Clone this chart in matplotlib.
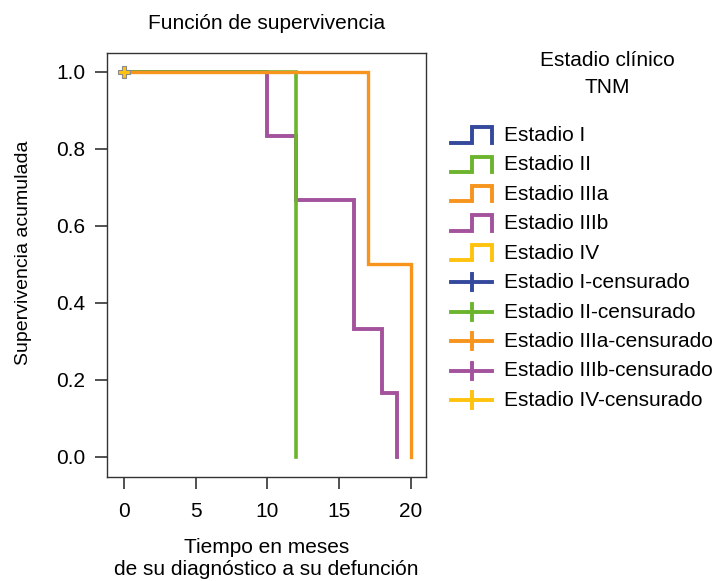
import matplotlib
matplotlib.use("Agg")
import matplotlib.pyplot as plt
from matplotlib.legend_handler import HandlerBase
from matplotlib.lines import Line2D

plt.rcParams["font.family"] = ["Liberation Sans", "DejaVu Sans"]

# Kaplan-Meier step data per clinical stage (time in months, cumulative survival)
stages = ["Estadio I", "Estadio II", "Estadio IIIa", "Estadio IIIb", "Estadio IV"]
colors = ["#34489c", "#6cb42e", "#f7941d", "#a3529c", "#ffc20e"]

time_I = [0, 10]
surv_I = [1.0, 1.0]
time_II = [0, 12, 12]
surv_II = [1.0, 1.0, 0.0]
time_IIIa = [0, 17, 17, 20, 20]
surv_IIIa = [1.0, 1.0, 0.5, 0.5, 0.0]
time_IIIb = [0, 10, 10, 12, 12, 16, 16, 18, 18, 19, 19]
surv_IIIb = [1.0, 1.0, 0.833, 0.833, 0.667, 0.667, 0.333, 0.333, 0.167, 0.167, 0.0]
time_IV = [0, 0]
surv_IV = [1.0, 1.0]

censor_time_IV = [0]
censor_surv_IV = [1.0]

curves = {
    "Estadio I": (time_I, surv_I),
    "Estadio II": (time_II, surv_II),
    "Estadio IIIa": (time_IIIa, surv_IIIa),
    "Estadio IIIb": (time_IIIb, surv_IIIb),
    "Estadio IV": (time_IV, surv_IV),
}

x_ticks = [0, 5, 10, 15, 20]
y_ticks = [0.0, 0.2, 0.4, 0.6, 0.8, 1.0]

FS = 15


class StepHandler(HandlerBase):
    def create_artists(self, legend, orig_handle, xdescent, ydescent,
                       width, height, fontsize, trans):
        x0, x1 = -xdescent, -xdescent + width
        xm = x0 + width * 0.5
        y0, y1 = -ydescent - height * 0.1, -ydescent + height * 0.95
        line = Line2D([x0, xm, xm, x1, x1], [y0, y0, y1, y1, y0],
                      color=orig_handle.get_color(), lw=2.8,
                      solid_joinstyle="miter", transform=trans)
        return [line]


class CensorHandler(HandlerBase):
    def create_artists(self, legend, orig_handle, xdescent, ydescent,
                       width, height, fontsize, trans):
        x0, x1 = -xdescent, -xdescent + width
        ym = -ydescent + height * 0.4
        h = Line2D([x0, x1], [ym, ym], color=orig_handle.get_color(), lw=2.8,
                   transform=trans)
        xm = (x0 + x1) / 2
        v = Line2D([xm, xm], [ym - height * 0.55, ym + height * 0.55],
                   color=orig_handle.get_color(), lw=2.8, transform=trans)
        return [h, v]


fig = plt.figure(figsize=(7.2, 5.81), dpi=100)
ax = fig.add_axes([0.1486, 0.179, 0.443, 0.730])

order = ["Estadio I", "Estadio IV", "Estadio IIIb", "Estadio II", "Estadio IIIa"]
widths = {"Estadio I": 2.6, "Estadio IV": 2.4, "Estadio IIIb": 2.8,
          "Estadio II": 2.6, "Estadio IIIa": 2.4}
for name in order:
    t, s = curves[name]
    c = colors[stages.index(name)]
    ax.plot(t, s, color=c, lw=widths[name], solid_joinstyle="miter", zorder=2)

ax.plot(censor_time_IV, censor_surv_IV, marker="P", ls="none", ms=9,
        color=colors[4], mec="#8a8a8a", mew=0.8, zorder=3)

ax.set_xlim(-1.18, 21.04)
ax.set_ylim(-0.052, 1.049)
ax.set_xticks(x_ticks)
ax.set_yticks(y_ticks)
ax.set_yticklabels([f"{v:.1f}" for v in y_ticks])
ax.tick_params(direction="out", length=8.8, width=1.1, labelsize=FS,
               color="#222222")
ax.tick_params(axis="y", pad=7)
ax.tick_params(axis="x", pad=9.5)
for sp in ax.spines.values():
    sp.set_color("#333333")
    sp.set_linewidth(1.0)

ax.set_title("Función de supervivencia", fontsize=FS, pad=17)
ax.set_xlabel("Tiempo en meses\nde su diagnóstico a su defunción", fontsize=FS,
              labelpad=12, linespacing=1.2)
ax.set_ylabel("Supervivencia acumulada", fontsize=14)
ax.yaxis.set_label_coords(-0.236, 0.528)

step_handles = [Line2D([], [], color=c) for c in colors]
censor_handles = [Line2D([], [], color=c, marker="+") for c in colors]
handles = step_handles + censor_handles
labels = stages + [f"{s}-censurado" for s in stages]
handler_map = {h: StepHandler() for h in step_handles}
handler_map.update({h: CensorHandler() for h in censor_handles})

leg = fig.legend(handles, labels, handler_map=handler_map,
                 loc="upper left", bbox_to_anchor=(0.627, 0.783),
                 frameon=False, fontsize=FS, handlelength=1.95,
                 handletextpad=0.58, labelspacing=0.5, borderaxespad=0,
                 borderpad=0)

fig.text(0.843, 0.873, "Estadio clínico\nTNM", ha="center", va="center",
         fontsize=FS, linespacing=1.5)

fig.savefig("out.png", dpi=100)
